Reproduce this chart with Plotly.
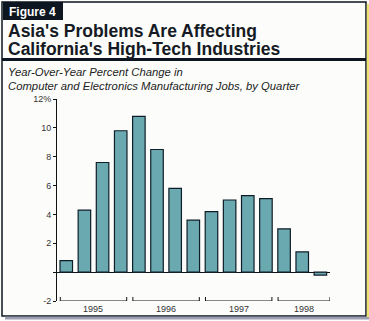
import plotly.graph_objects as go

# ---- data ----
quarters = ["95Q1", "95Q2", "95Q3", "95Q4", "96Q1", "96Q2", "96Q3", "96Q4",
            "97Q1", "97Q2", "97Q3", "97Q4", "98Q1", "98Q2", "98Q3"]
pct_change = [0.8, 4.3, 7.6, 9.8, 10.8, 8.5, 5.8, 3.6,
              4.2, 5.0, 5.3, 5.1, 3.0, 1.4, -0.2]
years = ["1995", "1996", "1997", "1998"]
year_first_index = [0, 4, 8, 12]
year_last_index = [3, 7, 11, 14]
y_tickvals = [-2, 0, 2, 4, 6, 8, 10, 12]
y_ticktext = ["-2", "", "2", "4", "6", "8", "10", "12%"]

W, H = 369, 321
ML, MR, MT, MB = 57, 39, 99, 20
PW, PH = W - ML - MR, H - MT - MB
XMIN, XMAX = -0.51, 14.53
FONT = "Liberation Sans, Arial, sans-serif"


def px(p):
    return (p - ML) / PW


def py(p):
    return (H - MB - p) / PH


xs = list(range(len(quarters)))

fig = go.Figure()
fig.add_trace(go.Bar(
    x=xs, y=pct_change,
    marker=dict(color="#6aa9b0", line=dict(color="#0f1d28", width=1.2)),
    hoverinfo="skip",
))

shapes = []
# outer frame
shapes.append(dict(type="rect", xref="paper", yref="paper",
                   x0=px(2), x1=px(366), y0=py(2), y1=py(316),
                   line=dict(color="#0d1520", width=1.5), layer="below"))
# shadows
shapes.append(dict(type="rect", xref="paper", yref="paper",
                   x0=px(5), x1=px(369), y0=py(316.8), y1=py(319.5),
                   line=dict(width=0), fillcolor="#9aa0b2", layer="below"))
shapes.append(dict(type="rect", xref="paper", yref="paper",
                   x0=px(366.8), x1=px(369), y0=py(4), y1=py(317),
                   line=dict(width=0), fillcolor="#e8e66e", layer="below"))
# figure tab
shapes.append(dict(type="rect", xref="paper", yref="paper",
                   x0=px(3), x1=px(63), y0=py(2), y1=py(20),
                   line=dict(width=0), fillcolor="#0d1520", layer="below"))
# thick rule under title
shapes.append(dict(type="rect", xref="paper", yref="paper",
                   x0=px(2), x1=px(366), y0=py(58), y1=py(61),
                   line=dict(width=0), fillcolor="#0d1520", layer="below"))

annotations = []
# year brackets and labels
for yr, a, b in zip(years, year_first_index, year_last_index):
    x0 = a - 0.33
    x1 = min(a + 3 + 0.33, XMAX)
    tick_top = -2 + 4 / (PH / 14)
    shapes.append(dict(type="path", xref="x", yref="y",
                       path=f"M {x0},{tick_top} L {x0},-2 L {x1},-2 L {x1},{tick_top}",
                       line=dict(color="#111111", width=1)))
    annotations.append(dict(text=yr, x=(x0 + x1) / 2, y=-2, xref="x", yref="y",
                            xanchor="center", yanchor="top", yshift=-1,
                            showarrow=False,
                            font=dict(size=9, color="#333333", family=FONT)))

annotations.append(dict(text="<b>Figure 4</b>", x=px(7), y=py(12), xref="paper", yref="paper",
                        xanchor="left", yanchor="middle", showarrow=False,
                        font=dict(size=12, color="#ffffff", family=FONT)))
annotations.append(dict(text="<b>Asia's Problems Are Affecting</b>", x=px(6), y=py(31.5),
                        xref="paper", yref="paper", xanchor="left", yanchor="middle",
                        showarrow=False,
                        font=dict(size=17.5, color="#151a24", family=FONT)))
annotations.append(dict(text="<b>California's High-Tech Industries</b>", x=px(6), y=py(49),
                        xref="paper", yref="paper", xanchor="left", yanchor="middle",
                        showarrow=False,
                        font=dict(size=17.5, color="#151a24", family=FONT)))
annotations.append(dict(text="<i>Year-Over-Year Percent Change in</i>", x=px(6), y=py(72),
                        xref="paper", yref="paper", xanchor="left", yanchor="middle",
                        showarrow=False,
                        font=dict(size=11.3, color="#222222", family=FONT)))
annotations.append(dict(text="<i>Computer and Electronics Manufacturing Jobs, by Quarter</i>",
                        x=px(6), y=py(86), xref="paper", yref="paper",
                        xanchor="left", yanchor="middle", showarrow=False,
                        font=dict(size=11.3, color="#222222", family=FONT)))

fig.update_layout(
    width=W, height=H,
    margin=dict(l=ML, r=MR, t=MT, b=MB, pad=0),
    paper_bgcolor="#fcfdfb", plot_bgcolor="rgba(0,0,0,0)",
    showlegend=False, bargap=0.31,
    shapes=shapes, annotations=annotations,
    xaxis=dict(range=[XMIN, XMAX], showticklabels=False, showgrid=False,
               zeroline=False, showline=False, ticks=""),
    yaxis=dict(range=[-2, 12], tickvals=y_tickvals, ticktext=y_ticktext,
               showgrid=False, zeroline=True, zerolinecolor="#111111", zerolinewidth=1,
               showline=True, linecolor="#111111", linewidth=1,
               ticks="outside", ticklen=3, tickcolor="#111111",
               tickfont=dict(size=9, color="#333333", family=FONT)),
)

fig.write_html("out.html", config={"displayModeBar": False})
